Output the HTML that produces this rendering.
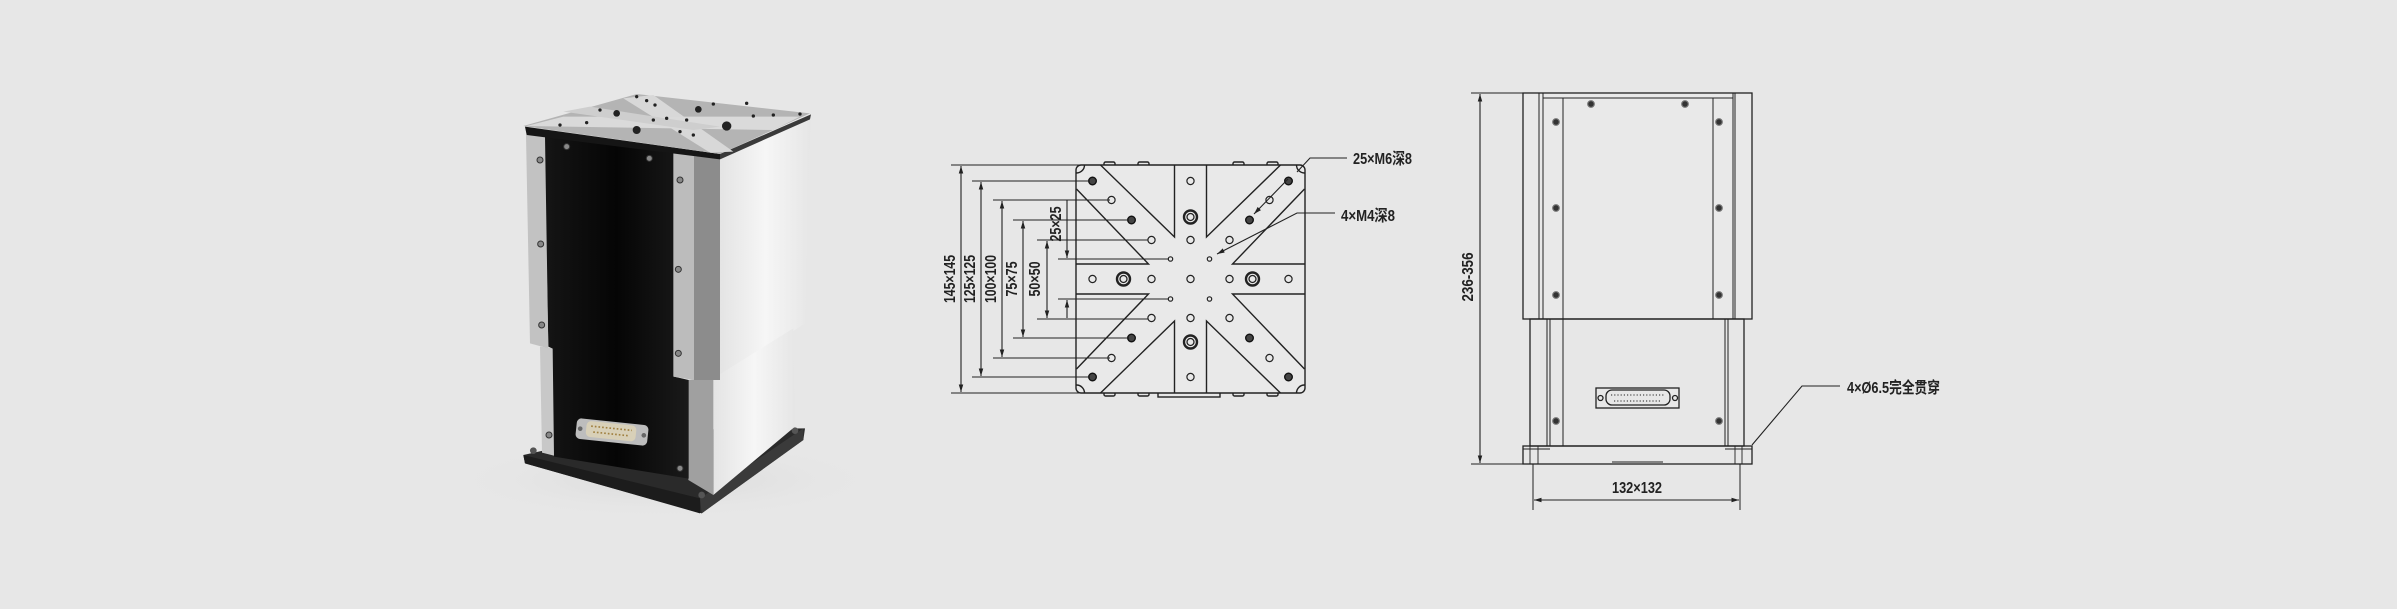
<!DOCTYPE html>
<html><head><meta charset="utf-8"><style>
html,body{margin:0;padding:0;background:#e7e7e7;}
svg{display:block;}
text{font-family:"Liberation Sans Narrow","Liberation Sans","Noto Sans CJK SC",sans-serif;fill:#222;font-weight:bold;}
</style></head><body>
<svg width="2397" height="609" viewBox="0 0 2397 609" xmlns="http://www.w3.org/2000/svg">
<defs>
<marker id="a" viewBox="0 0 10 10" refX="10" refY="5" markerWidth="7" markerHeight="7" orient="auto-start-reverse"><path d="M0,2 L10,5 L0,8 z" fill="#222"/></marker>
<linearGradient id="rf" x1="0" x2="1"><stop offset="0" stop-color="#e4e4e4"/><stop offset="0.5" stop-color="#f6f6f6"/><stop offset="1" stop-color="#e6e6e6"/></linearGradient>
<linearGradient id="bk" x1="0" x2="1"><stop offset="0" stop-color="#151515"/><stop offset="0.5" stop-color="#050505"/><stop offset="1" stop-color="#1a1a1a"/></linearGradient>
<radialGradient id="sh"><stop offset="0" stop-color="#d8d8d8"/><stop offset="1" stop-color="#e7e7e7" stop-opacity="0"/></radialGradient>
</defs>
<rect width="2397" height="609" fill="#e7e7e7"/>

<!-- PHOTO -->
<ellipse cx="665" cy="480" rx="220" ry="40" fill="url(#sh)"/>
<g transform="translate(480 80) scale(0.33333)">
  <polygon points="130,1125 470,1050 975,1045 970,1080 665,1300 135,1150" fill="#2a2a2a"/>
  <polygon points="130,1125 660,1255 660,1300 135,1150" fill="#1c1c1c"/>
  <polygon points="660,1255 970,1045 970,1080 665,1300" fill="#3a3a3a"/>
  <circle cx="160" cy="1112" r="10" fill="#555"/><circle cx="945" cy="1052" r="10" fill="#555"/><circle cx="665" cy="1245" r="10" fill="#555"/>
  <polygon points="720,235 992,118 975,730 720,900" fill="url(#rf)"/>
  <polygon points="700,895 940,745 945,1040 700,1245" fill="url(#rf)"/>
  <polygon points="625,900 700,895 700,1245 625,1200" fill="#a0a0a0"/>
  <polygon points="640,228 720,235 720,900 640,900" fill="#8c8c8c"/>
  <polygon points="180,800 222,805 226,1128 186,1118" fill="#c8c8c8"/>
  <polygon points="192,168 582,218 582,890 626,900 626,1196 222,1130 218,806 205,800" fill="url(#bk)"/>
  <polygon points="138,165 195,170 205,805 150,790" fill="#c2c2c2"/>
  <polygon points="580,218 642,228 642,900 580,890" fill="#bcbcbc"/>
  <polygon points="135,140 720,222 720,238 140,165" fill="#151515"/>
  <polygon points="720,222 993,103 990,118 720,238" fill="#3a3a3a"/>
  <polygon points="130,138 470,42 990,100 720,222" fill="#b4b4b4"/>
  <polygon points="430,55 520,45 760,215 690,218" fill="#d8d8d8"/>
  <polygon points="140,138 250,110 960,110 880,150" fill="#dadada"/>
  <polygon points="250,95 330,80 720,140 640,150" fill="#cecece"/>
  <g fill="#222">
    <circle cx="470" cy="50" r="5"/><circle cx="500" cy="62" r="5"/><circle cx="525" cy="75" r="5"/><circle cx="410" cy="100" r="10"/><circle cx="470" cy="150" r="12"/><circle cx="655" cy="88" r="10"/><circle cx="740" cy="138" r="14"/>
    <circle cx="240" cy="135" r="5"/><circle cx="320" cy="128" r="5"/><circle cx="600" cy="155" r="5"/><circle cx="640" cy="165" r="5"/><circle cx="820" cy="108" r="5"/><circle cx="880" cy="105" r="5"/><circle cx="700" cy="72" r="5"/><circle cx="560" cy="115" r="5"/><circle cx="620" cy="120" r="5"/><circle cx="520" cy="120" r="5"/><circle cx="360" cy="90" r="5"/><circle cx="960" cy="102" r="5"/><circle cx="800" cy="70" r="5"/>
  </g>
  <g fill="#888" stroke="#333" stroke-width="3">
    <circle cx="260" cy="200" r="9"/><circle cx="508" cy="235" r="9"/><circle cx="180" cy="240" r="9"/><circle cx="182" cy="492" r="9"/><circle cx="185" cy="735" r="9"/><circle cx="600" cy="300" r="9"/><circle cx="595" cy="568" r="9"/><circle cx="595" cy="820" r="9"/><circle cx="207" cy="1065" r="9"/><circle cx="600" cy="1165" r="9"/>
  </g>
  <g transform="rotate(6 396 1056)">
    <rect x="288" y="1025" width="216" height="62" rx="14" fill="#bdbdbd"/>
    <rect x="318" y="1030" width="150" height="48" rx="14" fill="#d8d0b8"/>
    <path d="M332,1045 H455 M340,1062 H448" stroke="#a08040" stroke-width="5" stroke-dasharray="5 6"/>
    <circle cx="300" cy="1056" r="7" fill="#666"/><circle cx="492" cy="1056" r="7" fill="#666"/>
  </g>
</g>

<!-- TOP VIEW -->
<g stroke="#222" fill="none" stroke-width="1.4">
  <g fill="#e7e7e7"><rect x="1104" y="162" width="11" height="4" rx="1.5"/><rect x="1138" y="162" width="11" height="4" rx="1.5"/><rect x="1233" y="162" width="11" height="4" rx="1.5"/><rect x="1267" y="162" width="11" height="4" rx="1.5"/>
  <rect x="1104" y="392" width="11" height="4" rx="1.5"/><rect x="1138" y="392" width="11" height="4" rx="1.5"/><rect x="1233" y="392" width="11" height="4" rx="1.5"/><rect x="1267" y="392" width="11" height="4" rx="1.5"/><rect x="1158" y="392" width="62" height="5"/></g>
  <g transform="translate(1190.5 279)">
    <rect x="-114.5" y="-114" width="229" height="228" rx="5" fill="#e9e9e9"/>
    <path d="M-16,-114 L-16,-42 L-90,-114 M16,-114 L16,-42 L90,-114 M-16,114 L-16,42 L-90,114 M16,114 L16,42 L90,114
             M-114,-15 L-42,-15 L-114,-90 M114,-15 L42,-15 L114,-90 M-114,15 L-42,15 L-114,90 M114,15 L42,15 L114,90"/>
    <path d="M-114,-106 A8,8 0 0 0 -106,-114 M114,-106 A8,8 0 0 1 106,-114 M-114,106 A8,8 0 0 1 -106,114 M114,106 A8,8 0 0 0 106,114"/>
    <g stroke-width="1.2">
      <circle cx="-79" cy="-79" r="3.6"/><circle cx="79" cy="-79" r="3.6"/><circle cx="-79" cy="79" r="3.6"/><circle cx="79" cy="79" r="3.6"/>
      <circle cx="-39" cy="-39" r="3.6"/><circle cx="39" cy="-39" r="3.6"/><circle cx="-39" cy="39" r="3.6"/><circle cx="39" cy="39" r="3.6"/>
      <circle cx="0" cy="-98" r="3.6"/><circle cx="0" cy="98" r="3.6"/><circle cx="-98" cy="0" r="3.6"/><circle cx="98" cy="0" r="3.6"/>
      <circle cx="0" cy="-39" r="3.6"/><circle cx="0" cy="39" r="3.6"/><circle cx="-39" cy="0" r="3.6"/><circle cx="39" cy="0" r="3.6"/><circle cx="0" cy="0" r="3.6"/>
      <circle cx="-20" cy="-20" r="2.2"/><circle cx="19" cy="-20" r="2.2"/><circle cx="-20" cy="20" r="2.2"/><circle cx="19" cy="20" r="2.2"/>
    </g>
    <g fill="#444" stroke="#111">
      <circle cx="-98" cy="-98" r="3.8"/><circle cx="98" cy="-98" r="3.8"/><circle cx="-98" cy="98" r="3.8"/><circle cx="98" cy="98" r="3.8"/>
      <circle cx="-59" cy="-59" r="3.8"/><circle cx="59" cy="-59" r="3.8"/><circle cx="-59" cy="59" r="3.8"/><circle cx="59" cy="59" r="3.8"/>
    </g>
    <g stroke-width="2.4">
      <circle cx="0" cy="-62" r="6.5"/><circle cx="0" cy="-62" r="3.5" stroke-width="1.3"/>
      <circle cx="0" cy="63" r="6.5"/><circle cx="0" cy="63" r="3.5" stroke-width="1.3"/>
      <circle cx="-67" cy="0" r="6.5"/><circle cx="-67" cy="0" r="3.5" stroke-width="1.3"/>
      <circle cx="62" cy="0" r="6.5"/><circle cx="62" cy="0" r="3.5" stroke-width="1.3"/>
    </g>
  </g>
  <g stroke-width="1.1">
    <path d="M951,165 H1080 M951,393 H1080 M972,181 H1090 M972,377 H1090 M993,200 H1110 M993,358 H1110 M1013,220 H1129 M1013,338 H1129 M1037,240 H1148 M1037,319 H1148 M1058,259 H1169 M1058,299 H1169"/>
    <line x1="961" y1="166" x2="961" y2="392" marker-start="url(#a)" marker-end="url(#a)"/>
    <line x1="981" y1="182" x2="981" y2="376" marker-start="url(#a)" marker-end="url(#a)"/>
    <line x1="1002" y1="201" x2="1002" y2="357" marker-start="url(#a)" marker-end="url(#a)"/>
    <line x1="1023" y1="221" x2="1023" y2="337" marker-start="url(#a)" marker-end="url(#a)"/>
    <line x1="1047" y1="241" x2="1047" y2="318" marker-start="url(#a)" marker-end="url(#a)"/>
    <line x1="1067" y1="200" x2="1067" y2="258" marker-end="url(#a)"/>
    <line x1="1067" y1="318" x2="1067" y2="300" marker-end="url(#a)"/>
    <path d="M1347,158 H1310 L1297,172"/>
    <line x1="1288" y1="179" x2="1254" y2="214" marker-end="url(#a)"/>
    <path d="M1335,213 H1297 L1217,254" marker-end="url(#a)"/>
  </g>
</g>
<g font-size="16">
  <text transform="translate(955 279) rotate(-90)" text-anchor="middle" textLength="48" lengthAdjust="spacingAndGlyphs">145×145</text>
  <text transform="translate(975 279) rotate(-90)" text-anchor="middle" textLength="48" lengthAdjust="spacingAndGlyphs">125×125</text>
  <text transform="translate(996 279) rotate(-90)" text-anchor="middle" textLength="48" lengthAdjust="spacingAndGlyphs">100×100</text>
  <text transform="translate(1017 279) rotate(-90)" text-anchor="middle" textLength="35" lengthAdjust="spacingAndGlyphs">75×75</text>
  <text transform="translate(1040 279) rotate(-90)" text-anchor="middle" textLength="35" lengthAdjust="spacingAndGlyphs">50×50</text>
  <text transform="translate(1061 224) rotate(-90)" text-anchor="middle" textLength="35" lengthAdjust="spacingAndGlyphs">25×25</text>
  <text x="1353" y="164" textLength="59" lengthAdjust="spacingAndGlyphs">25×M6深8</text>
  <text x="1341" y="221" textLength="54" lengthAdjust="spacingAndGlyphs">4×M4深8</text>
</g>

<!-- FRONT VIEW -->
<g stroke="#222" fill="none" stroke-width="1.3">
  <rect x="1523" y="93" width="229" height="226" fill="#e9e9e9"/>
  <path d="M1539,93 V319 M1543,93 V319 M1563,98 V319 M1713,98 V319 M1733,93 V319 M1735,93 V319 M1543,98 H1733" stroke-width="1"/>
  <rect x="1530" y="319" width="214" height="127"/>
  <path d="M1547,319 V446 M1550,319 V446 M1563,319 V446 M1725,319 V446 M1728,319 V446" stroke-width="1"/>
  <rect x="1523" y="446" width="229" height="18"/>
  <path d="M1523,449 H1550 M1725,449 H1752 M1530,446 V464 M1538,446 V464 M1735,446 V464 M1742,446 V464 M1612,462 H1663" stroke-width="0.9"/>
  <g fill="#333" stroke="#777" stroke-width="1.2">
    <circle cx="1591" cy="104" r="3.3"/><circle cx="1685" cy="104" r="3.3"/>
    <circle cx="1556" cy="122" r="3.3"/><circle cx="1719" cy="122" r="3.3"/>
    <circle cx="1556" cy="208" r="3.3"/><circle cx="1719" cy="208" r="3.3"/>
    <circle cx="1556" cy="295" r="3.3"/><circle cx="1719" cy="295" r="3.3"/>
    <circle cx="1556" cy="421" r="3.3"/><circle cx="1719" cy="421" r="3.3"/>
  </g>
  <rect x="1596" y="388" width="83" height="20"/>
  <rect x="1606" y="390" width="64" height="15" rx="6"/>
  <circle cx="1600.5" cy="398" r="2.5"/><circle cx="1675" cy="398" r="2.5"/>
  <path d="M1611,395 H1665 M1614,401 H1662" stroke-dasharray="1.2 2" stroke-width="1"/>
  <path d="M1471,93 H1523 M1471,464 H1523 M1533,464 V510 M1740,464 V510" stroke-width="1"/>
  <line x1="1480" y1="94" x2="1480" y2="463" stroke-width="1.1" marker-start="url(#a)" marker-end="url(#a)"/>
  <line x1="1534" y1="500" x2="1739" y2="500" stroke-width="1.1" marker-start="url(#a)" marker-end="url(#a)"/>
  <path d="M1752,445 L1802,386 H1840" stroke-width="1.1"/>
</g>
<g font-size="16">
  <text transform="translate(1473 277) rotate(-90)" text-anchor="middle" textLength="49" lengthAdjust="spacingAndGlyphs">236-356</text>
  <text x="1612" y="493" textLength="50" lengthAdjust="spacingAndGlyphs">132×132</text>
  <text x="1847" y="393" textLength="93" lengthAdjust="spacingAndGlyphs">4×Ø6.5完全贯穿</text>
</g>
</svg>
</body></html>
